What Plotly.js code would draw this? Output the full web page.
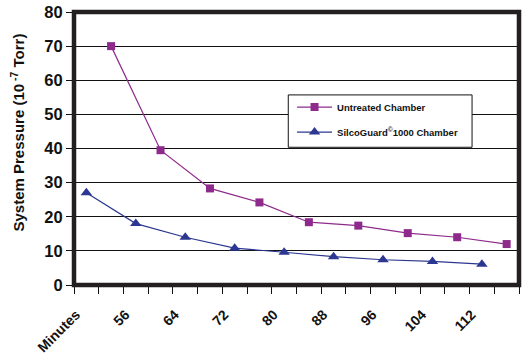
<!DOCTYPE html>
<html>
<head>
<meta charset="utf-8">
<script src="https://cdn.plot.ly/plotly-3.0.1.min.js"></script>
<style>html,body{margin:0;padding:0;background:#fff;}#chart{width:525px;height:359px;}</style>
</head>
<body>
<div id="chart"></div>
<script>
var minutesUntreated = [54, 62, 70, 78, 86, 94, 102, 110, 118];
var untreated = [70, 39.5, 28.3, 24.2, 18.4, 17.4, 15.2, 14, 12];
var minutesSilco = [50, 58, 66, 74, 82, 90, 98, 106, 114];
var silco = [27, 18, 14, 10.8, 9.6, 8.3, 7.4, 6.9, 6.1];
var xTickVals = [48, 52, 56, 60, 64, 68, 72, 76, 80, 84, 88, 92, 96, 100, 104, 108, 112, 116, 120];
var xTickText = ["Minutes", " ", "56", " ", "64", " ", "72", " ", "80", " ", "88", " ", "96", " ", "104", " ", "112", " ", " "];
var yTickVals = [0, 10, 20, 30, 40, 50, 60, 70, 80];

var purple = '#8e2a8c';
var blue = '#2b3790';
var font = 'Liberation Sans, Arial, sans-serif';

var traces = [
  {
    x: minutesUntreated, y: untreated, type: 'scatter', mode: 'lines+markers',
    name: 'Untreated Chamber', legendgroup: 'a',
    line: {color: purple, width: 1.2},
    marker: {symbol: 'square', size: 8, color: purple}
  },
  {
    x: minutesSilco, y: silco, type: 'scatter', mode: 'lines+markers',
    name: 'SilcoGuard<sup>©</sup>1000 Chamber', legendgroup: 'b',
    line: {color: blue, width: 1.2},
    marker: {symbol: 'triangle-up', size: 10, color: blue}
  }
];

var layout = {
  width: 525, height: 359,
  margin: {l: 73.5, r: 6, t: 12, b: 73.7, pad: 0},
  paper_bgcolor: '#fff', plot_bgcolor: '#fff',
  font: {family: font, color: '#111'},
  showlegend: true,
  legend: {
    x: 0.49, y: 0.705, xanchor: 'left', yanchor: 'top',
    bgcolor: 'rgba(0,0,0,0)', borderwidth: 0,
    font: {family: font, size: 9.5, color: '#111', weight: 'bold'},
    traceorder: 'grouped', tracegroupgap: 6, itemwidth: 35
  },
  xaxis: {
    range: [48, 120], tickmode: 'array', tickvals: xTickVals, ticktext: xTickText,
    tickangle: -45, ticks: 'outside', ticklen: 8, tickwidth: 1, tickcolor: '#111',
    showgrid: false, zeroline: false, showline: false,
    tickfont: {family: font, size: 14, color: '#111', weight: 'bold'},
    ticklabelshift: 2, ticklabelstandoff: 7
  },
  yaxis: {
    range: [0, 80], tickmode: 'array', tickvals: yTickVals,
    ticks: 'outside', ticklen: 7, tickwidth: 1, tickcolor: '#111',
    showgrid: true, gridcolor: '#111', gridwidth: 1, zeroline: false, showline: false,
    tickfont: {family: font, size: 16.5, color: '#111', weight: 'bold'}
  },
  shapes: [
    {type: 'rect', xref: 'paper', yref: 'paper', x0: 0.4815, x1: 0.8945, y0: 0.5045, y1: 0.6963,
     line: {color: '#111', width: 1}, fillcolor: '#fff', layer: 'above'},
    {type: 'rect', xref: 'paper', yref: 'paper', x0: 0, x1: 1, y0: 0, y1: 1,
     line: {color: '#231f20', width: 4.5}, fillcolor: 'rgba(0,0,0,0)', layer: 'above'}
  ],
  annotations: [
    {text: 'System Pressure (10<sup> -7</sup> Torr)', xref: 'paper', yref: 'paper',
     x: -0.1268, y: 0.557, xanchor: 'center', yanchor: 'middle', textangle: -90,
     showarrow: false, font: {family: font, size: 15, color: '#111', weight: 'bold'}}
  ]
};

Plotly.newPlot('chart', traces, layout, {displayModeBar: false, staticPlot: true});
</script>
</body>
</html>
